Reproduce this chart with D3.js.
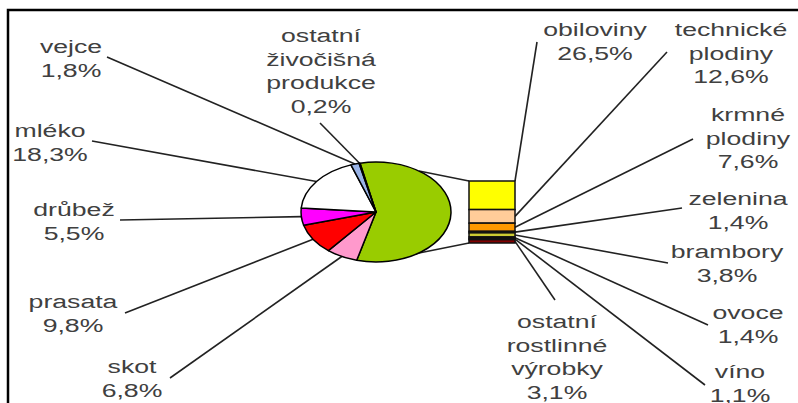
<!DOCTYPE html>
<html><head><meta charset="utf-8">
<script src="https://cdn.jsdelivr.net/npm/d3@7"></script>
<style>html,body{margin:0;padding:0;background:#fff}svg{display:block}</style>
</head><body>
<script>
// ---- data ----
const animalNames = ["skot","prasata","drůbež","mléko","vejce","ostatní živočišná produkce"];
const animalValues = [6.8, 9.8, 5.5, 18.3, 1.8, 0.2];
const animalColors = ["#FF99CC","#FF0000","#FF00FF","#FFFFFF","#99B3E6","#333399"];
const plantNames = ["obiloviny","technické plodiny","krmné plodiny","zelenina","brambory","ovoce","víno","ostatní rostlinné výrobky"];
const plantValues = [26.5, 12.6, 7.6, 1.4, 3.8, 1.4, 1.1, 3.1];
const plantColors = ["#FFFF00","#FFCC99","#FF9900","#336633","#CCCC33","#663333","#330000","#800000"];
const plantTotalColor = "#99CC00";

// ---- layout ----
const W = 798, H = 403;
const cx = 376, cy = 212, ry = 50, sx = 1.5;
const startDeg = -12.3;
const barX0 = 469, barX1 = 515, barY0 = 181, barY1 = 243;
const fontSize = 18, lineStep = 23.5, textScaleX = 1.48;
// label layout: [center x, first line y, leader start x, leader start y]
const animalLabelPos = [
  [132, 367, 170, 378],
  [73, 302, 125, 313],
  [74, 210, 120, 220],
  [50, 131, 92, 141],
  [71, 47, 107, 57],
  [321, 36, 320, 123]
];
const plantLabelPos = [
  [595, 30, 537, 42],
  [731, 30, 667, 52],
  [748, 115, 693, 139],
  [738, 199, 682, 208],
  [727, 252, 668, 263],
  [748, 313, 708, 325],
  [740, 372, 705, 385],
  [557, 322, 555, 300]
];

const fmt = v => v.toFixed(1).replace(".", ",") + "%";

const svg = d3.select("body").append("svg").attr("width", W).attr("height", H);
svg.append("rect").attr("width", W).attr("height", H).attr("fill", "#fff");

// frame (top and left edges visible)
svg.append("path").attr("d", `M8,${H} L8,10 L${W},10`).attr("fill", "none")
  .attr("stroke", "#000").attr("stroke-width", 2.5);

// ---- pie ----
const plantTotal = d3.sum(plantValues);
const pieData = [{name: "rostlinná", value: plantTotal, color: plantTotalColor}]
  .concat(animalNames.map((n, i) => ({name: n, value: animalValues[i], color: animalColors[i]})));
const toRad = d => d * Math.PI / 180;
const pie = d3.pie().sort(null).value(d => d.value)
  .startAngle(toRad(startDeg)).endAngle(toRad(startDeg) + 2 * Math.PI);
const arcs = pie(pieData);
const arc = d3.arc().innerRadius(0).outerRadius(ry);
const ellipsePt = a => [cx + sx * ry * Math.sin(a), cy - ry * Math.cos(a)];

// connectors pie -> bar
const g0 = svg.append("g");
const greenArc = arcs[0];
const topA = toRad(35), botA = toRad(145);
const yBar = d3.scaleLinear().domain([0, plantTotal]).range([barY0, barY1]);
[[topA, yBar(0)], [botA, yBar(plantTotal)]].forEach(([a, yb]) => {
  const p = ellipsePt(a);
  g0.append("line").attr("x1", p[0]).attr("y1", p[1]).attr("x2", barX0).attr("y2", yb)
    .attr("stroke", "#222").attr("stroke-width", 1.5);
});

// leader lines animal
const leaders = svg.append("g").attr("stroke", "#222").attr("stroke-width", 1.6).attr("fill", "none");
arcs.slice(1).forEach((a, i) => {
  const mid = (a.startAngle + a.endAngle) / 2;
  const p = ellipsePt(mid);
  const L = animalLabelPos[i];
  leaders.append("line").attr("x1", L[2]).attr("y1", L[3]).attr("x2", p[0]).attr("y2", p[1]);
});

// pie slices
const pg = svg.append("g").attr("transform", `translate(${cx},${cy}) scale(${sx},1)`);
pg.selectAll("path").data(arcs).join("path")
  .attr("d", arc).attr("fill", d => d.data.color)
  .attr("stroke", "#000").attr("stroke-width", 1.5)
  .attr("vector-effect", "non-scaling-stroke").attr("stroke-linejoin", "round");

// ---- bar ----
const stacked = [];
let acc = 0;
plantValues.forEach((v, i) => { stacked.push({name: plantNames[i], value: v, y0: acc, y1: acc + v, color: plantColors[i]}); acc += v; });

stacked.forEach((s, i) => {
  const yb = i === 0 ? yBar(s.y0) : yBar((s.y0 + s.y1) / 2);
  const L = plantLabelPos[i];
  leaders.append("line").attr("x1", L[2]).attr("y1", L[3]).attr("x2", barX1).attr("y2", yb);
});

svg.append("g").selectAll("rect").data(stacked).join("rect")
  .attr("x", barX0).attr("width", barX1 - barX0)
  .attr("y", d => yBar(d.y0)).attr("height", d => yBar(d.y1) - yBar(d.y0))
  .attr("fill", d => d.color).attr("stroke", "#111").attr("stroke-width", 1.5);

// ---- labels ----
function label(lines, x, y) {
  const t = svg.append("text")
    .attr("transform", `translate(${x},${y}) scale(${textScaleX},1)`)
    .attr("text-anchor", "middle").attr("dominant-baseline", "central")
    .attr("font-family", "Arial, 'Liberation Sans', sans-serif")
    .attr("font-size", fontSize).attr("fill", "#404040");
  lines.forEach((ln, k) => t.append("tspan").attr("x", 0).attr("y", k * lineStep).text(ln));
}
animalNames.forEach((n, i) => label(n.split(" ").concat([fmt(animalValues[i])]), animalLabelPos[i][0], animalLabelPos[i][1]));
plantNames.forEach((n, i) => label(n.split(" ").concat([fmt(plantValues[i])]), plantLabelPos[i][0], plantLabelPos[i][1]));
</script>
</body></html>
